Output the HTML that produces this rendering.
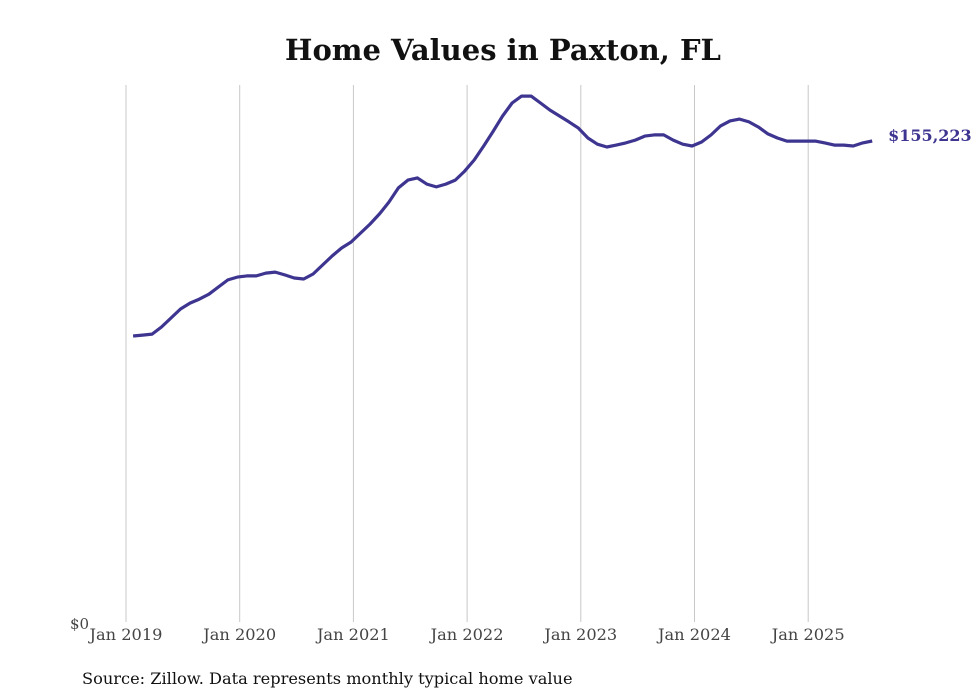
<!DOCTYPE html>
<html><head><meta charset="utf-8"><style>
body{margin:0;background:#fff;}
svg{display:block;font-family:"DejaVu Serif","Liberation Serif",serif;}
</style></head><body>
<svg width="980" height="699" viewBox="0 0 980 699">
<text x="503" y="60" text-anchor="middle" font-size="29" font-weight="bold" fill="#111">Home Values in Paxton, FL</text>
<g id="grid"></g>
<g id="xlabels"></g>
<text x="70" y="629" font-size="15" fill="#444">$0</text>
<path id="line" fill="none" stroke="#3d3590" stroke-width="3.2" stroke-linejoin="round"></path>
<text id="endlabel" font-size="16" font-weight="bold" fill="#3d3590"></text>
<text x="82" y="684" font-size="16.2" fill="#111">Source: Zillow. Data represents monthly typical home value</text>
</svg>
<script>
const years = ["Jan 2019","Jan 2020","Jan 2021","Jan 2022","Jan 2023","Jan 2024","Jan 2025"];
const values = [92.3,92.6,92.9,95.2,98.1,101.0,102.9,104.2,105.8,108.1,110.4,111.3,111.7,111.7,112.6,112.9,112.0,111.0,110.7,112.3,115.2,118.1,120.7,122.6,125.5,128.4,131.7,135.5,140.1,142.6,143.3,141.3,140.4,141.3,142.6,145.5,149.1,153.6,158.4,163.3,167.5,169.7,169.7,167.5,165.2,163.3,161.4,159.4,156.2,154.2,153.3,153.9,154.6,155.5,156.8,157.2,157.2,155.5,154.2,153.6,154.9,157.2,160.1,161.7,162.3,161.4,159.7,157.5,156.2,155.2,155.2,155.2,155.2,154.6,153.9,153.9,153.6,154.6,155.223];
const lastLabel = "$155,223";
const startOffset = 0.75;
const x0=126, pxPerYear=113.7, yBase=622, pxPerK=481/155.223;
const xs = m => x0 + (m + startOffset) * pxPerYear/12;
const ys = v => yBase - v*pxPerK;
const ns="http://www.w3.org/2000/svg";
const grid=document.getElementById('grid'), xl=document.getElementById('xlabels');
years.forEach((y,i)=>{
  const x=x0+i*pxPerYear;
  const l=document.createElementNS(ns,'line');
  l.setAttribute('x1',x);l.setAttribute('x2',x);l.setAttribute('y1',85);l.setAttribute('y2',622);
  l.setAttribute('stroke','#c8c8c8');l.setAttribute('stroke-width','1');
  
  
  grid.appendChild(l);
  const t=document.createElementNS(ns,'text');
  t.setAttribute('x',x);t.setAttribute('y',640);t.setAttribute('text-anchor','middle');
  t.setAttribute('font-size','16.2');t.setAttribute('fill','#444');t.textContent=y;
  
  
  xl.appendChild(t);
});
let d='';
values.forEach((v,i)=>{d+=(i?'L':'M')+xs(i).toFixed(1)+','+ys(v).toFixed(1);});
document.getElementById('line').setAttribute('d',d);
const el=document.getElementById('endlabel');
const li=values.length-1;
el.setAttribute('x',xs(li)+16);el.setAttribute('y',ys(values[li])+0);
el.textContent=lastLabel;
</script>
</body></html>
